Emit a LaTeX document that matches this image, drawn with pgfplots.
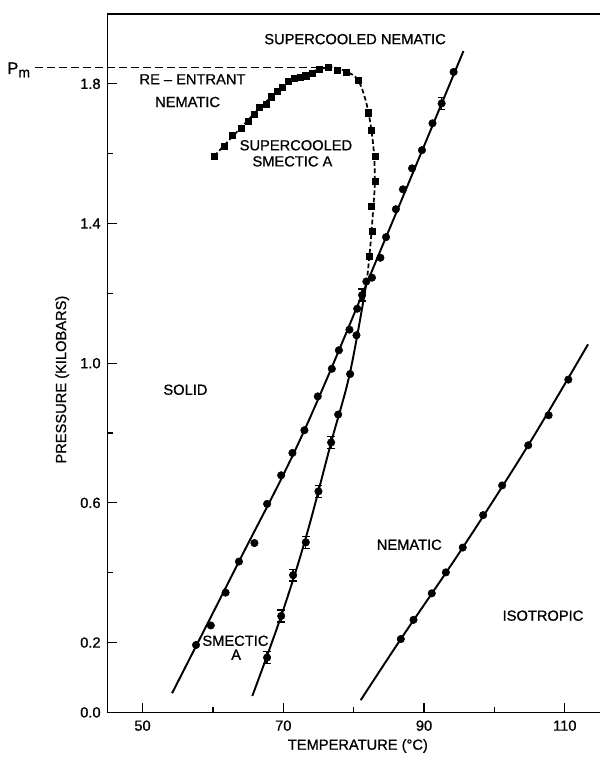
\documentclass[border=0pt]{standalone}
\usepackage{fontspec}
\setmainfont{Liberation Sans}[FakeBold=0.8]
\usepackage{pgfplots}
\pgfplotsset{compat=1.18}
\usepackage{pgfplotstable}

% solid / mesophase boundary (plain circles)
\pgfplotstableread{
T P
57.6 0.193
59.7 0.249
61.8 0.343
63.7 0.432
65.9 0.485
67.7 0.597
69.7 0.679
71.3 0.743
73.0 0.808
74.9 0.905
76.9 0.984
77.9 1.037
79.4 1.096
80.5 1.156
82.6 1.245
83.8 1.302
84.6 1.361
86.0 1.441
87.0 1.498
88.3 1.558
89.7 1.610
91.2 1.687
94.2 1.834
}\leftdots

% smectic A - nematic boundary (plain circles)
\pgfplotstableread{
T P
77.8 0.853
79.5 0.969
80.4 1.080
81.8 1.234
}\middots

% points with error bars
\pgfplotstableread{
T P E
67.7 0.157 0.017
69.7 0.276 0.017
71.4 0.393 0.017
73.2 0.487 0.017
75.0 0.633 0.017
76.8 0.773 0.017
81.2 1.195 0.017
92.5 1.744 0.017
}\errdots

% nematic - isotropic boundary
\pgfplotstableread{
T P
86.7 0.210
88.5 0.265
91.1 0.341
93.1 0.401
95.5 0.472
98.4 0.565
101.1 0.650
104.8 0.765
107.7 0.851
110.5 0.953
}\isodots

% re-entrant nematic (squares)
\pgfplotstableread{
T P
60.2 1.593
61.6 1.622
62.7 1.652
64.0 1.673
65.0 1.692
65.9 1.713
66.6 1.734
67.6 1.742
68.3 1.763
69.2 1.778
69.9 1.790
70.7 1.808
71.6 1.815
72.4 1.818
73.2 1.823
74.1 1.830
75.1 1.842
76.4 1.847
77.7 1.839
79.0 1.833
80.7 1.810
82.1 1.717
82.5 1.667
83.1 1.593
83.1 1.522
82.5 1.449
82.6 1.378
82.2 1.307
}\squares

\begin{document}
\begin{tikzpicture}[font=\fontsize{11}{13}\selectfont]
\begin{axis}[
  scale only axis, width=369.5pt, height=523.8pt,
  xmin=45, xmax=115, ymin=0, ymax=2.0,
  axis x line*=box, axis y line*=left,
  xtick={50,70,90,110}, minor xtick={60,80,100},
  ytick={0,0.2,0.6,1.0,1.4,1.8}, minor ytick={0.4,0.8,1.2,1.6},
  xtick pos=lower, ytick pos=left, tick align=inside,
  major tick length=7.2pt, minor tick length=4pt,
  tick style={black, line width=0.9pt},
  axis line style={line width=0.9pt},
  /pgf/number format/assume math mode=true,
  y tick label style={/pgf/number format/fixed, /pgf/number format/fixed zerofill, /pgf/number format/precision=1},
  xticklabel style={yshift=-2.5pt},
  yticklabel style={xshift=-1.5pt},
  clip=false,
]
\coordinate (sw) at (rel axis cs:0,0);
\coordinate (ne) at (rel axis cs:1,1);

% boundary lines
\addplot[no marks, line width=1.45pt, smooth, tension=0.6] coordinates
  {(54.2,0.055)(63.7,0.432)(73.0,0.808)(84.6,1.361)(95.6,1.894)};
\addplot[no marks, line width=1.45pt, smooth, tension=0.6] coordinates
  {(65.6,0.047)(69.7,0.276)(73.2,0.500)(76.8,0.773)(79.5,0.975)(81.9,1.240)};
\addplot[no marks, line width=1.45pt, smooth, tension=0.6] coordinates
  {(81.0,0.035)(86.7,0.210)(95.5,0.472)(104.8,0.765)(113.3,1.054)};
\addplot[no marks, line width=1.3pt, dash pattern=on 3.5pt off 2pt, smooth, tension=0.6] coordinates
  {(60.2,1.593)(64.0,1.675)(68.0,1.757)(72.0,1.817)(76.4,1.847)(79.0,1.834)(80.7,1.808)(82.0,1.728)(82.8,1.620)(83.0,1.520)(82.7,1.420)(82.3,1.320)(81.9,1.240)};
\addplot[no marks, line width=0.9pt, dash pattern=on 6pt off 3pt] coordinates
  {(34.7,1.847)(76.4,1.847)};

% data points
\addplot[only marks, mark=*, mark size=2.8pt] table[x=T,y=P] {\leftdots};
\addplot[only marks, mark=*, mark size=2.8pt] table[x=T,y=P] {\middots};
\addplot[only marks, mark=*, mark size=2.8pt] table[x=T,y=P] {\isodots};
\addplot[only marks, mark=square*, mark size=2.3pt] table[x=T,y=P] {\squares};
\addplot[only marks, mark=*, mark size=2.8pt,
  error bars/.cd, y dir=both, y explicit,
  error bar style={line width=1pt},
  error mark options={rotate=90, mark size=2.8pt, line width=1pt}]
  table[x=T,y=P,y error=E] {\errdots};

% labels
\node at (axis cs:80.2,1.928) {SUPERCOOLED NEMATIC};
\node at (axis cs:57.1,1.813) {RE – ENTRANT};
\node at (axis cs:56.4,1.748) {NEMATIC};
\node at (axis cs:71.8,1.624) {SUPERCOOLED};
\node at (axis cs:71.3,1.578) {SMECTIC A};
\node at (axis cs:56.1,0.924) {SOLID};
\node at (axis cs:63.2,0.205) {SMECTIC};
\node at (axis cs:63.3,0.165) {A};
\node at (axis cs:87.9,0.480) {NEMATIC};
\node at (axis cs:106.9,0.277) {ISOTROPIC};
\node at (axis cs:32.4,1.840) {\fontsize{12.5}{14}\selectfont P\raisebox{-2.5pt}{\fontsize{10.5}{12}\selectfont m}};
\node[rotate=90] at (axis cs:38.6,0.953) {PRESSURE (KILOBARS)};
\node at (axis cs:80.6,-0.096) {TEMPERATURE (°C)};
\end{axis}
\pgfresetboundingbox
\path[use as bounding box] ([xshift=-80.5pt,yshift=-33.45pt]sw) rectangle ([yshift=10.5pt]ne);
\end{tikzpicture}
\end{document}
